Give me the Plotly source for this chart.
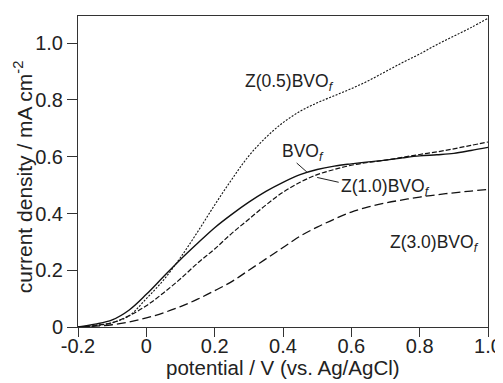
import plotly.graph_objects as go

potential = [-0.2, -0.15, -0.1, -0.05, 0.0, 0.05, 0.1, 0.15, 0.2, 0.25, 0.3, 0.35, 0.4,
             0.45, 0.5, 0.55, 0.6, 0.65, 0.7, 0.75, 0.8, 0.85, 0.9, 0.95, 1.0]

bvo_f = [0.0, 0.01, 0.025, 0.06, 0.115, 0.177, 0.238, 0.295, 0.35, 0.397, 0.44, 0.478, 0.51,
         0.537, 0.555, 0.567, 0.575, 0.582, 0.588, 0.596, 0.603, 0.607, 0.612, 0.622, 0.633]
z05_bvo_f = [0.0, 0.005, 0.015, 0.04, 0.1, 0.165, 0.245, 0.335, 0.43, 0.52, 0.603, 0.668, 0.72,
             0.76, 0.79, 0.815, 0.84, 0.868, 0.9, 0.932, 0.962, 0.995, 1.025, 1.055, 1.088]
z10_bvo_f = [0.0, 0.005, 0.015, 0.04, 0.075, 0.12, 0.17, 0.225, 0.275, 0.33, 0.38, 0.43, 0.475,
             0.51, 0.537, 0.555, 0.57, 0.58, 0.588, 0.598, 0.608, 0.617, 0.628, 0.64, 0.652]
z30_bvo_f = [0.0, 0.003, 0.008, 0.018, 0.032, 0.05, 0.072, 0.098, 0.128, 0.16, 0.2, 0.24, 0.28,
             0.32, 0.352, 0.38, 0.405, 0.423, 0.437, 0.448, 0.458, 0.466, 0.473, 0.479, 0.485]

x_ticks = [-0.2, 0, 0.2, 0.4, 0.6, 0.8, 1.0]
x_tick_labels = ["-0.2", "0", "0.2", "0.4", "0.6", "0.8", "1.0"]
y_ticks = [0, 0.2, 0.4, 0.6, 0.8, 1.0]
y_tick_labels = ["0", "0.2", "0.4", "0.6", "0.8", "1.0"]

FONT = "Liberation Sans, Arial, sans-serif"
INK = "#222"

fig = go.Figure()
fig.add_trace(go.Scatter(x=potential, y=z30_bvo_f, mode="lines", line=dict(color="#111", width=1.3, dash="9px,4px", shape="spline")))
fig.add_trace(go.Scatter(x=potential, y=z10_bvo_f, mode="lines", line=dict(color="#111", width=1.2, dash="5px,2px", shape="spline")))
fig.add_trace(go.Scatter(x=potential, y=z05_bvo_f, mode="lines", line=dict(color="#111", width=1.1, dash="2px,1.5px", shape="spline")))
fig.add_trace(go.Scatter(x=potential, y=bvo_f, mode="lines", line=dict(color="#111", width=1.4, shape="spline")))

ann_font = dict(family=FONT, size=17.5, color=INK)
def lab(name):
    return name + "BVO<i><sub>f</sub></i>"

fig.add_annotation(x=0.283, y=0.86, text=lab("Z(0.5)"), showarrow=False, xanchor="left", font=ann_font)
fig.add_annotation(x=0.391, y=0.615, text=lab(""), showarrow=False, xanchor="left", font=ann_font)
fig.add_annotation(x=0.565, y=0.49, text=lab("Z(1.0)"), showarrow=False, xanchor="left", font=ann_font)
fig.add_annotation(x=0.98, y=0.295, text=lab("Z(3.0)"), showarrow=False, xanchor="right", font=ann_font)
# leader lines
fig.add_shape(type="line", x0=0.44, y0=0.578, x1=0.47, y1=0.546, line=dict(color=INK, width=1))
fig.add_shape(type="line", x0=0.5, y0=0.527, x1=0.563, y1=0.51, line=dict(color=INK, width=1))

# axis titles
fig.add_annotation(xref="paper", yref="paper", x=0.5, y=-0.131, yanchor="middle", xanchor="center",
                   text="potential / V (vs. Ag/AgCl)", showarrow=False,
                   font=dict(family=FONT, size=20.5, color=INK))
fig.add_annotation(xref="paper", yref="paper", x=-0.134, y=0.482, yanchor="middle", xanchor="center",
                   textangle=-90, text="current density / mA cm<sup>-2</sup>", showarrow=False,
                   font=dict(family=FONT, size=21, color=INK))

fig.update_xaxes(range=[-0.2, 1.0], tickvals=x_ticks, ticktext=x_tick_labels,
                 ticks="outside", ticklen=9, tickwidth=1, tickcolor="#333",
                 showline=True, linecolor="#333", linewidth=1, mirror=True,
                 showgrid=False, zeroline=False, automargin=False, ticklabelstandoff=-8,
                 tickfont=dict(family=FONT, size=20, color=INK))
fig.update_yaxes(range=[0, 1.096], tickvals=y_ticks, ticktext=y_tick_labels,
                 ticks="outside", ticklen=10, tickwidth=1, tickcolor="#333",
                 showline=True, linecolor="#333", linewidth=1, mirror=True,
                 showgrid=False, zeroline=False, automargin=False,
                 tickfont=dict(family=FONT, size=20, color=INK))

# the page body adds an 8px offset; size the figure so the plot lands where the reference's is
fig.update_layout(width=495, height=375, margin=dict(l=70, r=15, t=8, b=56),
                  paper_bgcolor="white", plot_bgcolor="white", showlegend=False)

fig.write_html("out.html")
